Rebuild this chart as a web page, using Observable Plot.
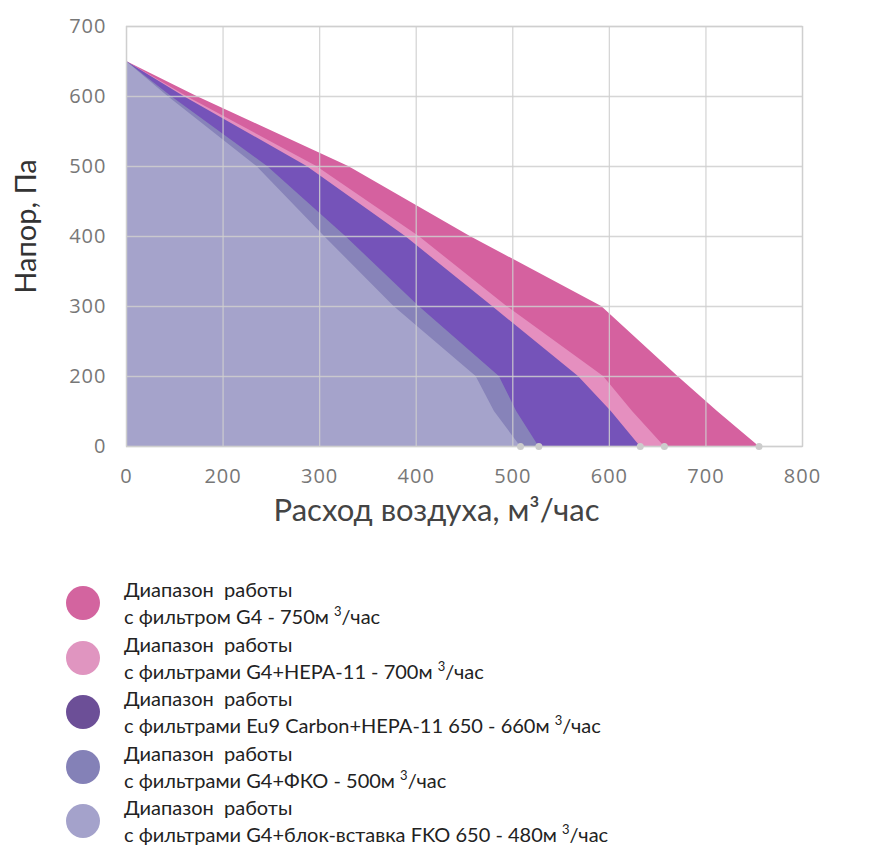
<!DOCTYPE html>
<html><head><meta charset="utf-8">
<script src="https://cdn.jsdelivr.net/npm/d3@7"></script>
<script src="https://cdn.jsdelivr.net/npm/@observablehq/plot@0.6"></script>
<style>
body{margin:0;background:#fff;font-family:Lato,"Noto Sans",sans-serif;}
#chart svg{font-family:"Open Sans",Lato,sans-serif;}
#chart svg [aria-label="x-axis tick label"] text,
#chart svg [aria-label="y-axis tick label"] text{letter-spacing:1px;}
#chart svg [aria-label="x-axis label"] text{font-size:31px;fill:#444;font-family:Lato,sans-serif;}
#chart svg [aria-label="y-axis label"] text{font-size:29px;fill:#333;font-family:Lato,sans-serif;}
.legend{margin-left:66px;margin-top:36px;}
.item{display:flex;align-items:center;height:54.5px;}
.dot{width:34px;height:34px;border-radius:50%;margin-right:24px;flex:none;}
.txt{font-size:20px;line-height:27px;color:#222;white-space:pre;}
.txt sup{font-size:13px;vertical-align:8px;line-height:0;}
</style></head><body>
<div id="chart"></div>
<div class="legend" id="legend"></div>
<script>
// Pressure levels (Па) at which the flow of each curve was read
const pressure = [0, 100, 200, 300, 400, 500, 600, 650];
// Flow (м³/час) of each working range at those pressures
const flowG4 = [755, 712, 671, 592, 456, 330, 146, 0];
const flowG4Hepa = [657, 624, 594, 494, 403, 297, 125, 0];
const flowEu9 = [632, 602, 568, 479, 389, 287, 119, 0];
const flowFko = [527, 504, 486, 403, 327, 246, 93, 0];
const flowBlock = [508, 481, 462, 377, 305, 235, 86, 0];

const seriesNames = [
  ["Диапазон  работы", "с фильтром G4 - 750м ", "/час"],
  ["Диапазон  работы", "с фильтрами G4+HEPA-11 - 700м ", "/час"],
  ["Диапазон  работы", "с фильтрами Eu9 Carbon+HEPA-11 650 - 660м ", "/час"],
  ["Диапазон  работы", "с фильтрами G4+ФКО - 500м ", "/час"],
  ["Диапазон  работы", "с фильтрами G4+блок-вставка FKO 650 - 480м ", "/час"]
];
const areaColors = ["#d5619f", "#e58fbf", "#7553b9", "#8783b9", "#a5a3cb"];
const legendColors = ["#d3649f", "#e095c0", "#6c4f97", "#8481b7", "#a4a2cb"];

// Axis ticks (the original axes are evenly spaced at these labels)
const xTicks = [0, 200, 300, 400, 500, 600, 700, 800];
const yTicks = [0, 200, 300, 400, 500, 600, 700];

const flows = [flowG4, flowG4Hepa, flowEu9, flowFko, flowBlock];
const curves = flows.map(f => pressure.map((p, i) => ({pressure: p, flow: f[i]})));
const ends = flows.map(f => ({flow: f[0], pressure: 0}));

const chart = Plot.plot({
  width: 879,
  height: 540,
  marginLeft: 126,
  marginRight: 77,
  marginTop: 26,
  marginBottom: 94,
  x: {type: "linear", domain: xTicks, nice: false},
  y: {type: "linear", domain: yTicks, nice: false},
  marks: [
    ...curves.map((c, i) => Plot.areaX(c, {x: "flow", y: "pressure", fill: areaColors[i]})),
    Plot.gridX(xTicks, {stroke: "#cfcfcf", strokeOpacity: 0.85, strokeWidth: 1.3}),
    Plot.gridY(yTicks, {stroke: "#cfcfcf", strokeOpacity: 0.85, strokeWidth: 1.3}),
    Plot.frame({stroke: "#cfcfcf", strokeWidth: 1.3}),
    Plot.dot(ends, {x: "flow", y: "pressure", r: 3.5, fill: "#cccccc"}),
    Plot.axisX({ticks: xTicks, tickSize: 0, tickPadding: 22, fontSize: 20, color: "#777",
      label: "Расход воздуха, м³/час", labelAnchor: "center", labelArrow: "none", labelOffset: 74}),
    Plot.axisY({ticks: yTicks, tickSize: 0, tickPadding: 20, fontSize: 20, color: "#777",
      label: "Напор, Па", labelAnchor: "center", labelArrow: "none", labelOffset: 111})
  ]
});
// nudge the axis titles to where the original has them
for (const [sel, t] of [['[aria-label="x-axis label"]', "translate(-28,0)"], ['[aria-label="y-axis label"]', "translate(0,-10)"]]) {
  const g = chart.querySelector(sel);
  if (g) g.setAttribute("transform", t + " " + (g.getAttribute("transform") || ""));
}
document.getElementById("chart").appendChild(chart);

const legend = document.getElementById("legend");
seriesNames.forEach((n, i) => {
  const item = document.createElement("div");
  item.className = "item";
  item.innerHTML = `<div class="dot" style="background:${legendColors[i]}"></div>` +
    `<div class="txt">${n[0]}\n${n[1]}<sup>3</sup>${n[2]}</div>`;
  legend.appendChild(item);
});
</script>
</body></html>
